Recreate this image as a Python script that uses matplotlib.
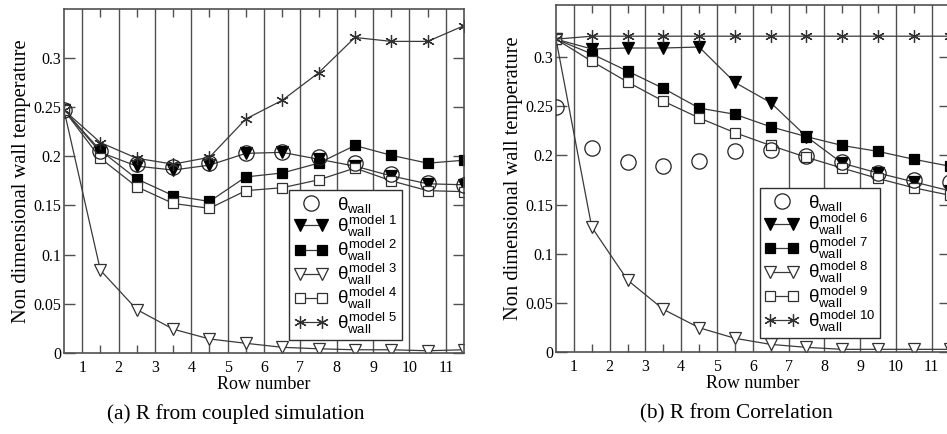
import matplotlib
matplotlib.use("Agg")
import matplotlib.pyplot as plt
from matplotlib.ticker import FixedLocator
from matplotlib.legend_handler import HandlerLine2D

plt.rcParams['mathtext.fontset'] = 'custom'
plt.rcParams['mathtext.rm'] = 'Liberation Sans'
plt.rcParams['mathtext.it'] = 'Liberation Sans'
plt.rcParams['mathtext.sf'] = 'Liberation Sans'
plt.rcParams['mathtext.bf'] = 'Liberation Sans'

# Row positions (half-rows) where values are reported
rows = [0.5, 1.5, 2.5, 3.5, 4.5, 5.5, 6.5, 7.5, 8.5, 9.5, 10.5, 11.5]
row_labels = ['1', '2', '3', '4', '5', '6', '7', '8', '9', '10', '11']

# (a) R from coupled simulation
theta_wall_a = [0.247, 0.205, 0.192, 0.189, 0.193, 0.203, 0.204, 0.199, 0.193, 0.182, 0.173, 0.171]
model1 = [0.247, 0.204, 0.190, 0.186, 0.191, 0.203, 0.204, 0.197, 0.190, 0.180, 0.172, 0.171]
model2 = [0.247, 0.206, 0.177, 0.160, 0.154, 0.179, 0.183, 0.193, 0.211, 0.201, 0.193, 0.196]
model3 = [0.247, 0.084, 0.044, 0.024, 0.014, 0.0096, 0.0055, 0.004, 0.003, 0.003, 0.002, 0.003]
model4 = [0.247, 0.198, 0.169, 0.152, 0.147, 0.165, 0.168, 0.176, 0.188, 0.175, 0.165, 0.164]
model5 = [0.247, 0.214, 0.198, 0.192, 0.199, 0.238, 0.257, 0.285, 0.321, 0.317, 0.317, 0.333]

# (b) R from Correlation
theta_wall_b = [0.249, 0.2075, 0.193, 0.189, 0.194, 0.204, 0.205, 0.199, 0.193, 0.182, 0.175, 0.173]
model6 = [0.318, 0.308, 0.309, 0.309, 0.310, 0.274, 0.2535, 0.219, 0.192, 0.182, 0.173, 0.164]
model7 = [0.318, 0.303, 0.2856, 0.268, 0.248, 0.2417, 0.229, 0.219, 0.210, 0.204, 0.196, 0.189]
model8 = [0.318, 0.127, 0.0733, 0.0436, 0.0249, 0.0142, 0.008, 0.005, 0.003, 0.003, 0.003, 0.003]
model9 = [0.318, 0.2955, 0.2745, 0.255, 0.238, 0.223, 0.210, 0.198, 0.187, 0.1765, 0.167, 0.1595]
model10 = [0.318, 0.321, 0.321, 0.321, 0.321, 0.321, 0.321, 0.321, 0.321, 0.321, 0.321, 0.321]

yticks = [0, 0.05, 0.1, 0.15, 0.2, 0.25, 0.3]
ytick_labels = ['0', '0.05', '0.1', '0.15', '0.2', '0.25', '0.3']

captions = ['(a) R from coupled simulation', '(b) R from Correlation']

SERIF = 'Liberation Serif'
LC = '#3a3a3a'

fig = plt.figure(figsize=(9.47, 4.34), dpi=100)
ax1 = fig.add_axes([0.0676, 0.1873, 0.4224, 0.792])
ax2 = fig.add_axes([0.5871, 0.1883, 0.4157, 0.8009])


def style_axes(ax, ytop):
    ax.set_xlim(0.5, 11.5)
    ax.set_ylim(0, ytop)
    for xv in range(1, 12):
        ax.axvline(xv, color='#505050', lw=1.0, zorder=0.5)
    ax.xaxis.set_major_locator(FixedLocator(list(range(1, 12))))
    ax.set_xticklabels(row_labels)
    ax.xaxis.set_minor_locator(FixedLocator(rows[1:-1]))
    ax.set_yticks(yticks)
    ax.set_yticklabels(ytick_labels)
    ax.tick_params(axis='x', which='major', length=0, pad=5, labelsize=11.5)
    ax.tick_params(axis='x', which='minor', direction='in', length=6, top=True, bottom=True, width=1, color='#505050')
    ax.tick_params(axis='y', which='major', direction='in', length=8, left=True, right=True, width=1,
                   labelsize=11.5, pad=2, color='#505050')
    for lab in ax.get_xticklabels() + ax.get_yticklabels():
        lab.set_fontfamily(SERIF)
    for s in ax.spines.values():
        s.set_color('#505050')
        s.set_linewidth(1.2)
    ax.set_xlabel('Row number', fontfamily=SERIF, fontsize=13, labelpad=0)
    ax.set_ylabel('Non dimensional wall temperature', fontfamily=SERIF, fontsize=14.8, labelpad=2)


def plot_panel(ax, theta, models, names):
    circ, = ax.plot(rows, theta, ls='none', marker='o', ms=11, mfc='none', mec='#202020', mew=0.9,
                    label=r'$\theta_{\mathrm{wall}}$', zorder=3)
    styles = [
        dict(marker='v', ms=8, mfc='black', mec='black'),
        dict(marker='s', ms=7.5, mfc='black', mec='black'),
        dict(marker='v', ms=8, mfc='white', mec='#303030'),
        dict(marker='s', ms=7.5, mfc='white', mec='#303030'),
        dict(marker=(6, 2, 0), ms=9, mfc='none', mec='#303030'),
    ]
    for vals, name, st in zip(models, names, styles):
        ax.plot(rows, vals, color=LC, lw=0.9, mew=0.9, zorder=2,
                label=r'$\theta_{\mathrm{wall}}^{\mathrm{model\ ' + name + '}}$', **st)
    return circ


style_axes(ax1, 0.35)
style_axes(ax2, 0.353)
c1 = plot_panel(ax1, theta_wall_a, [model1, model2, model3, model4, model5], ['1', '2', '3', '4', '5'])
c2 = plot_panel(ax2, theta_wall_b, [model6, model7, model8, model9, model10], ['6', '7', '8', '9', '10'])

for ax, circ, anchor in [(ax1, c1, (0.5625, 0.027, 0.2825, 0.455)), (ax2, c2, (0.525, 0.0325, 0.291, 0.4465))]:
    leg = ax.legend(loc='center', bbox_to_anchor=anchor, bbox_transform=ax.transAxes,
                    fancybox=False, frameon=True, framealpha=1, edgecolor='#303030',
                    fontsize=13.5, handlelength=1.8, numpoints=2, labelspacing=-0.05,
                    borderpad=0.25, handletextpad=0.5, borderaxespad=0,
                    handler_map={circ: HandlerLine2D(numpoints=1)})
    leg.get_frame().set_linewidth(1.0)
    leg.set_zorder(5)

fig.text(236 / 947, 1 - 414 / 434, captions[0], ha='center', va='center', fontfamily=SERIF, fontsize=15.3)
fig.text(736 / 947, 1 - 414 / 434, captions[1], ha='center', va='center', fontfamily=SERIF, fontsize=15.3)

fig.savefig('out.png', dpi=100)
